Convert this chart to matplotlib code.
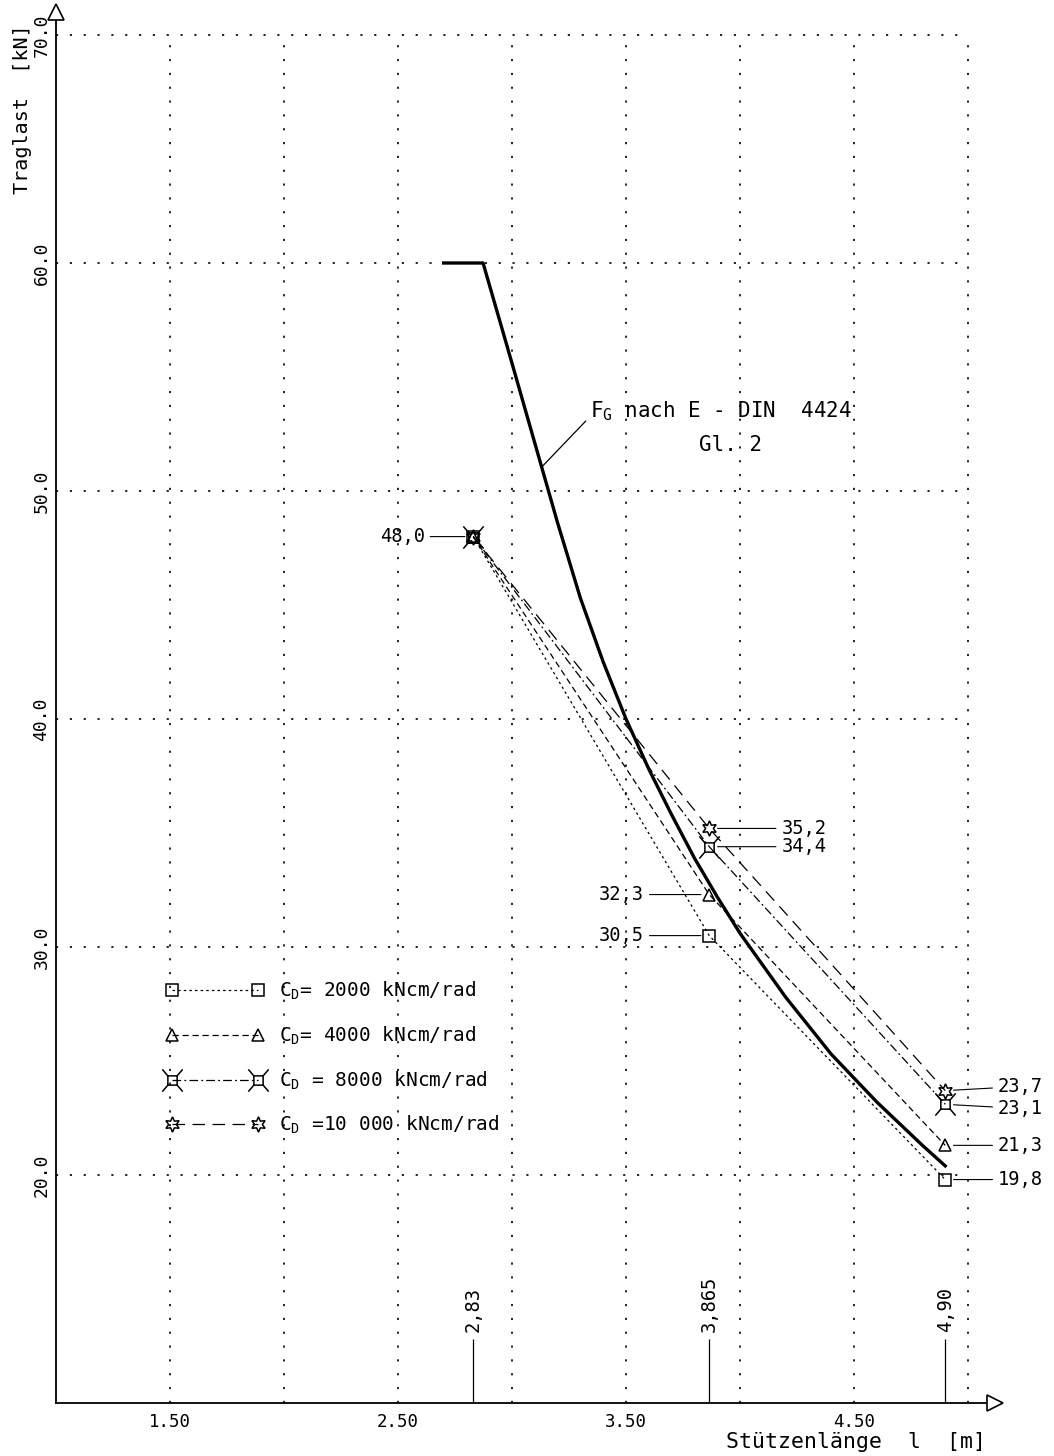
import numpy as np

import matplotlib
matplotlib.use('Agg')
import matplotlib.pyplot as plt
from matplotlib.path import Path

plt.rcParams['font.family'] = ['DejaVu Sans Mono', 'DejaVu Sans']
plt.rcParams['mathtext.fontset'] = 'custom'
plt.rcParams['mathtext.rm'] = 'DejaVu Sans Mono'

# Stuetzenlaengen der Versuche [m]
lengths = [2.83, 3.865, 4.90]
length_labels = ["2,83", "3,865", "4,90"]

# Traglast [kN] je Drehfedersteifigkeit C_D [kNcm/rad]
cd_labels = ["C$_\\mathrm{D}$= 2000 kNcm/rad", "C$_\\mathrm{D}$= 4000 kNcm/rad",
             "C$_\\mathrm{D}$ = 8000 kNcm/rad", "C$_\\mathrm{D}$ =10 000 kNcm/rad"]
load_2000 = [48.0, 30.5, 19.8]
load_4000 = [48.0, 32.3, 21.3]
load_8000 = [48.0, 34.4, 23.1]
load_10000 = [48.0, 35.2, 23.7]

# F_G nach E-DIN 4424, Gl. 2
fg_length = [2.70, 2.873, 3.0, 3.1, 3.2, 3.3, 3.4, 3.5, 3.6, 3.7, 3.8,
             3.9, 4.0, 4.2, 4.4, 4.6, 4.8, 4.9]
fg_load = [60.0, 60.0, 55.6, 52.1, 48.6, 45.3, 42.5, 40.0, 37.8, 35.8, 33.9,
           32.2, 30.6, 27.8, 25.3, 23.2, 21.3, 20.4]

x_ticks = [1.5, 2.5, 3.5, 4.5]
y_ticks = [20, 30, 40, 50, 60, 70]

# square with whiskers on the corners (C_D = 8000)
wv = [(-0.5, -0.5), (0.5, -0.5), (0.5, 0.5), (-0.5, 0.5), (-0.5, -0.5),
      (0.5, 0.5), (1.1, 1.2), (-0.5, 0.5), (-1.1, 1.2),
      (0.5, -0.5), (1.1, -1.2), (-0.5, -0.5), (-1.1, -1.2)]
wc = [Path.MOVETO, Path.LINETO, Path.LINETO, Path.LINETO, Path.CLOSEPOLY,
      Path.MOVETO, Path.LINETO, Path.MOVETO, Path.LINETO,
      Path.MOVETO, Path.LINETO, Path.MOVETO, Path.LINETO]
whisker = Path(wv, wc)

series = [load_2000, load_4000, load_8000, load_10000]
styles = [
    dict(ls=(0, (2, 2.5)), marker='s', ms=9),
    dict(ls=(0, (5, 3)), marker='^', ms=9),
    dict(ls=(0, (7, 2.5, 1.5, 2.5)), marker=whisker, ms=16),
    dict(ls=(0, (10, 6)), marker=(6, 1, 0), ms=11),
]

fig = plt.figure(figsize=(10.54, 14.56), dpi=100)
ax = fig.add_axes([56 / 1054, 53 / 1456, 939.4 / 1054, 1390.8 / 1456])
ax.set_xlim(1.0, 5.12)
ax.set_ylim(10, 71)

# dotted grid
gdash = (0, (1.3, 7))
ax.hlines(y_ticks, 1.0, 5.0, colors='black', lw=1.2, linestyles=[gdash])
ax.vlines(np.arange(1.5, 5.01, 0.5), 10, 70, colors='black', lw=1.2,
          linestyles=[gdash])

for load, lab, st in zip(series, cd_labels, styles):
    ax.plot(lengths, load, color='black', lw=0.9, ls=st['ls'],
            marker=st['marker'], ms=st['ms'], mfc='none', mec='black',
            mew=1.1, label=lab, zorder=3)

ax.plot(fg_length, fg_load, color='black', lw=2.4, solid_joinstyle='round',
        zorder=4)

# value labels
def fmt(v):
    return ("%.1f" % v).replace('.', ',')

ann = dict(textcoords='offset points', va='center', fontsize=13.5,
           arrowprops=dict(arrowstyle='-', lw=0.8, shrinkA=2, shrinkB=6))
ax.annotate(fmt(load_2000[0]), xy=(lengths[0], load_2000[0]),
            xytext=(-35, 0), ha='right', **ann)
end_nudge = [0, 0, -3, 3]
for i, load in enumerate(series):
    if i < 2:
        ax.annotate(fmt(load[1]), xy=(lengths[1], load[1]),
                    xytext=(-47, 0), ha='right', **ann)
    else:
        ax.annotate(fmt(load[1]), xy=(lengths[1], load[1]),
                    xytext=(52, 0), ha='left', **ann)
    ax.annotate(fmt(load[2]), xy=(lengths[2], load[2]),
                xytext=(38, end_nudge[i]), ha='left', **ann)

# length markers on the x axis
ax.vlines(lengths, 10, 12.8, colors='black', lw=0.9)
for x, lab in zip(lengths, length_labels):
    ax.text(x, 13.1, lab, rotation=90, ha='center', va='bottom', fontsize=13.5)

# F_G label
xa = 3.13
ax.annotate("F$_\\mathrm{G}$ nach E - DIN  4424",
            xy=(xa, np.interp(xa, fg_length, fg_load)),
            xytext=(3.34, 53.5), ha='left', va='center', fontsize=15,
            arrowprops=dict(arrowstyle='-', lw=0.9, shrinkA=1, shrinkB=0,
                            relpos=(0, 0.25)))
ax.text(3.96, 52.0, "Gl. 2", ha='center', va='center', fontsize=15)

# axes
for s in ['top', 'right']:
    ax.spines[s].set_visible(False)
for s in ['left', 'bottom']:
    ax.spines[s].set_linewidth(1.3)
ax.plot([1.0], [71], marker='^', ms=12, mfc='white', mec='black', mew=1.2,
        clip_on=False, zorder=5)
ax.plot([5.12], [10], marker='>', ms=12, mfc='white', mec='black', mew=1.2,
        clip_on=False, zorder=5)

ax.set_xticks(x_ticks)
ax.set_xticklabels(["%.2f" % v for v in x_ticks], fontsize=12.5)
ax.set_yticks(y_ticks)
ax.set_yticklabels(["%.1f" % v for v in y_ticks], fontsize=13, rotation=90,
                   va='center')
ax.tick_params(length=0)
ax.tick_params(axis='x', pad=7)
ax.tick_params(axis='y', pad=4)

ax.text(-0.036, 0.93, "Traglast  [kN]", transform=ax.transAxes, rotation=90,
        ha='center', va='center', fontsize=14.5)
ax.text(0.852, -0.028, "Stützenlänge  l  [m]", transform=ax.transAxes,
        ha='center', va='center', fontsize=15.5)

leg = ax.legend(loc='upper left', bbox_to_anchor=(1.485, 28.55),
                bbox_transform=ax.transData, numpoints=2, frameon=False,
                handlelength=5.0, handletextpad=0.8, labelspacing=1.15,
                borderpad=0, borderaxespad=0, fontsize=14)

plt.savefig("out.png", format="png", dpi=100)
